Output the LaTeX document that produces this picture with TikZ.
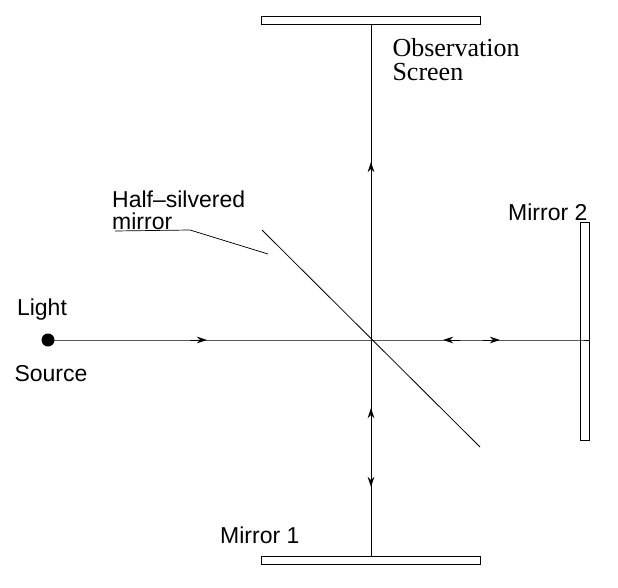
\documentclass[tikz,border=0pt]{standalone}
\usepackage{fontspec}
\setmainfont{Liberation Serif}
\newfontfamily\hv{Liberation Sans}
\usetikzlibrary{arrows.meta}
\begin{document}
\begin{tikzpicture}[x=1pt,y=-1pt,
  ln/.style={line width=0.8pt},
  mir/.style={draw,line width=0.7pt,fill=white,inner sep=0pt},
  tip/.style={-{Stealth[length=10pt,width=6.5pt,inset=3pt]},line width=0.8pt},
  lbl/.style={font=\hv\fontsize{23}{22}\selectfont,inner sep=0pt}]
\useasboundingbox (0,0) rectangle (618,588);
\coordinate (c) at (371,340);
\node[mir,minimum width=219pt,minimum height=8pt] (top) at (371,20) {};
\node[mir,minimum width=219pt,minimum height=8pt] (bot) at (371,560) {};
\node[mir,minimum width=9pt,minimum height=218pt] (right) at (584.5,331) {};
\node[circle,fill,inner sep=0pt,minimum size=13pt] (src) at (48,340) {};
\coordinate (d1) at (262,230);
\coordinate (d2) at (480,447);
\draw[ln] (d1) -- (d2);
\draw[ln] (src.center) -- (right.west |- c) -- (589,340);
\draw[ln] (top.south) -- (bot.north);
% arrows
\coordinate (a1) at (207,340); \draw[tip] (190,340) -- (a1);
\coordinate (a2) at (371,162); \draw[tip] (371,180) -- (a2);
\coordinate (a3) at (443,340); \draw[tip] (460,340) -- (a3);
\coordinate (a4) at (500,340); \draw[tip] (483,340) -- (a4);
\coordinate (a5) at (371,408); \draw[tip] (371,425) -- (a5);
\coordinate (a6) at (371,487); \draw[tip] (371,470) -- (a6);
% labels
\node[anchor=west,font=\fontsize{26}{24}\selectfont,align=left] (obs) at (389,60) {Observation\\Screen};
\node[lbl,anchor=west,align=left] (hs) at (112,210) {Half\textendash silvered\\mirror};
\coordinate (hl) at (268,254);
\coordinate (hk) at (190,230);
\draw[line width=0.7pt] (115,231) -- (hk) -- (hl);
\node[lbl,anchor=west] (m2) at (508,212) {Mirror 2};
\node[lbl,anchor=west] (m1) at (220,535) {Mirror 1};
\node[lbl,anchor=center] (lt) at (42,310) {Light};
\node[lbl,anchor=center] (ls) at (51,374) {Source};
\end{tikzpicture}
\end{document}
